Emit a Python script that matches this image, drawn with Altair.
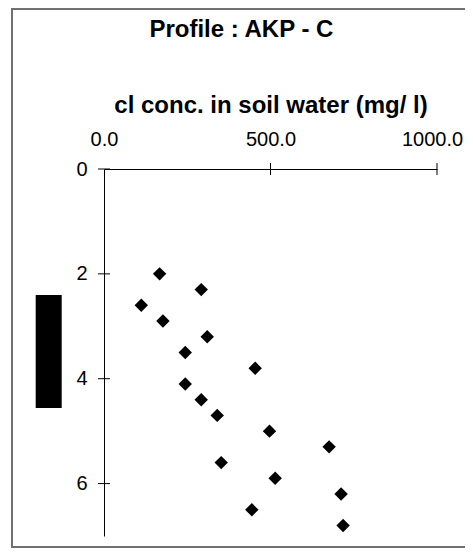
import altair as alt
import pandas as pd

# data
depth = [2.0, 2.3, 2.6, 2.9, 3.2, 3.5, 3.8, 4.1, 4.4, 4.7, 5.0, 5.3, 5.6, 5.9, 6.2, 6.5, 6.8]
conc = [167, 292, 112, 177, 310, 244, 454, 244, 292, 340, 497, 676, 352, 514, 712, 444, 718]
x_ticks = [0, 500, 1000]
y_ticks = [0, 2, 4, 6]
chart_title = "Profile : AKP - C"
x_title = "cl conc. in soil water (mg/ l)"

FONT = "Liberation Sans"
df = pd.DataFrame({"conc": conc, "depth": depth})
one = pd.DataFrame({"a": [0]})

W, H = 333, 367
xscale = alt.Scale(domain=[0, 1000], nice=False, zero=False)
yscale = alt.Scale(domain=[0, 7], reverse=True, nice=False, zero=False)

xaxis = alt.Axis(
    orient="top", values=x_ticks, format=".1f", title=x_title,
    ticks=False, labelPadding=20, titlePadding=12,
    titleFont=FONT, titleFontSize=24, titleFontWeight="bold", titleColor="black",
    labelFont=FONT, labelFontSize=20, labelColor="black",
    labelFlush=False, labelOverlap=False,
    labelOffset={"condition": {"test": "datum.value >= 1000", "value": -5}, "value": 0},
    domainColor="black", domainWidth=1, grid=False)
yaxis = alt.Axis(
    values=y_ticks, format="d", title=None, ticks=False, labelPadding=17,
    labelFont=FONT, labelFontSize=20, labelColor="black",
    domainColor="black", domainWidth=1, grid=False)

points = alt.Chart(df).mark_point(
    shape="diamond", filled=True, size=180, color="black", opacity=1
).encode(
    x=alt.X("conc:Q", scale=xscale, axis=xaxis, title=x_title),
    y=alt.Y("depth:Q", scale=yscale, axis=yaxis, title=None),
)

xt = alt.Chart(pd.DataFrame({"t": x_ticks[1:]})).mark_tick(
    orient="vertical", size=12, thickness=1, color="black", opacity=1
).encode(x=alt.X("t:Q", scale=xscale, axis=xaxis, title=x_title), y=alt.value(0))

yt = alt.Chart(pd.DataFrame({"t": y_ticks})).mark_tick(
    orient="horizontal", size=12, thickness=1, color="black", opacity=1
).encode(y=alt.Y("t:Q", scale=yscale, axis=yaxis, title=None), x=alt.value(0))

frame_color = "#707070"
top_line = alt.Chart(one).mark_rule(color=frame_color, strokeWidth=2).encode(
    x=alt.value(-92), x2=alt.value(372), y=alt.value(-160))
left_line = alt.Chart(one).mark_rule(color=frame_color, strokeWidth=2).encode(
    x=alt.value(-92), y=alt.value(-161), y2=alt.value(379))
bottom_line = alt.Chart(one).mark_rule(color=frame_color, strokeWidth=2).encode(
    x=alt.value(-92), x2=alt.value(372), y=alt.value(378))

block = alt.Chart(one).mark_rect(color="black").encode(
    x=alt.value(-68.3), x2=alt.value(-42.3), y=alt.value(126), y2=alt.value(239))

title = alt.Chart(one).mark_text(
    text=chart_title, font=FONT, fontSize=24, fontWeight="bold", color="black",
    align="center", baseline="alphabetic"
).encode(x=alt.value(137.4), y=alt.value(-132.3))

chart = alt.layer(
    points, xt, yt, top_line, left_line, bottom_line, block, title
).properties(
    width=W, height=H,
    autosize=alt.AutoSizeParams(type="none"),
    padding={"left": 96, "top": 161, "right": 28, "bottom": 12},
).configure(background="white").configure_view(stroke=None)

chart.save("out.html", embed_options={"renderer": "svg", "actions": False})
